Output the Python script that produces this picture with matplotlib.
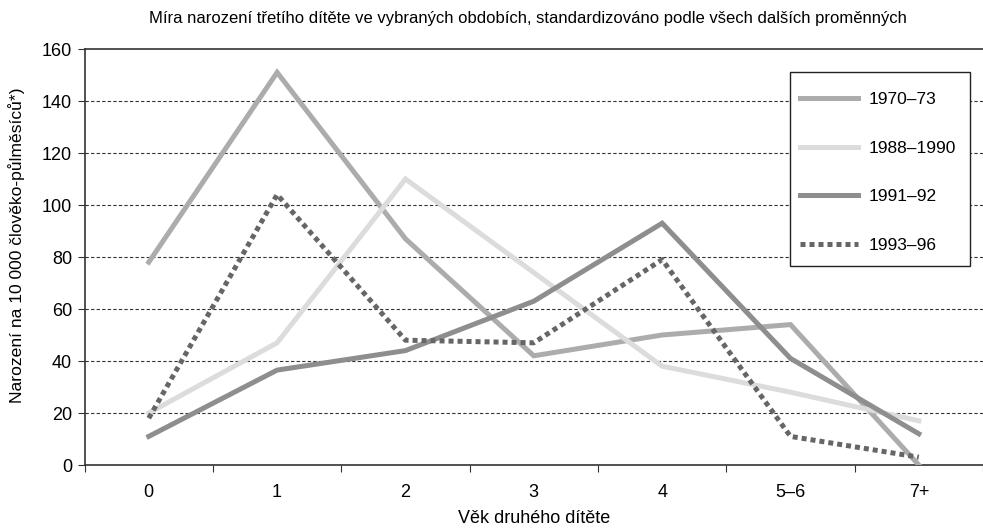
import matplotlib
matplotlib.use("Agg")
import matplotlib.pyplot as plt
from matplotlib.patches import Rectangle
import numpy as np

#%% --- Data ---

categories = ["0", "1", "2", "3", "4", "5–6", "7+"]
rate_1970_73 = [78, 151, 87, 42, 50, 54, 0]
rate_1988_1990 = [20, 47, 110, 74, 38, 28, 17]
rate_1991_92 = [11, 36.5, 44, 63, 93, 41, 12]
rate_1993_96 = [18, 104, 48, 47, 79, 11, 3]
series_labels = ["1970–73", "1988–1990", "1991–92", "1993–96"]

#%% --- Style ---

plt.rcParams["font.family"] = ["Liberation Sans Narrow", "Liberation Sans", "DejaVu Sans"]

W, H = 983, 528
fig = plt.figure(figsize=(W / 100, H / 100), dpi=100)
ax = fig.add_axes([84.6 / W, 1 - 465 / H, 1 - 84.6 / W, (465 - 49) / H])

x = np.arange(len(categories))
lw = 3.6
ax.plot(x, rate_1970_73, color="#acacac", lw=lw, label=series_labels[0],
        solid_joinstyle="miter", zorder=3)
ax.plot(x, rate_1988_1990, color="#dcdcdc", lw=lw, label=series_labels[1],
        solid_joinstyle="miter", zorder=3)
ax.plot(x, rate_1991_92, color="#8e8e8e", lw=lw, label=series_labels[2],
        solid_joinstyle="miter", zorder=3)
ax.plot(x, rate_1993_96, color="#666666", lw=lw, label=series_labels[3],
        dashes=(1.0, 0.8), dash_capstyle="butt", zorder=4)

# --- axes ---
ax.set_ylim(0, 160)
ax.set_xlim(-0.5, -0.5 + (W - 84.6) / 129.4)
ax.set_yticks(range(0, 161, 20))
ax.set_xticks(x)
ax.set_xticklabels(categories)
ax.set_xticks(np.arange(-0.5, 6.6, 1.0), minor=True)
ax.tick_params(axis="x", which="major", length=0, pad=14, labelsize=13)
ax.tick_params(axis="x", which="minor", length=5, width=0.8, color="#333333")
ax.tick_params(axis="y", length=5, width=0.8, color="#333333", labelsize=13, pad=4)

for yv in range(20, 160, 20):
    ax.axhline(yv, color="#333333", lw=0.8, ls=(0, (3, 2)), zorder=1)

for side in ["left", "bottom", "top"]:
    ax.spines[side].set_color("#333333")
    ax.spines[side].set_linewidth(1.2)
ax.spines["right"].set_visible(False)

ax.set_xlabel("Věk druhého dítěte", fontsize=13, labelpad=6)
ax.set_ylabel("Narození na 10 000 člověko-půlměsíců*)", fontsize=12.6, labelpad=6)
ax.yaxis.set_label_coords(-0.066, (465 - 245) / 416)
fig.text(0.537, 0.965, "Míra narození třetího dítěte ve vybraných obdobích, standardizováno podle všech dalších proměnných",
         ha="center", va="center", fontsize=12)

# --- legend box drawn by hand, legend content without frame ---
box = Rectangle((790 / W, 1 - 266 / H), 180 / W, 194 / H, transform=fig.transFigure,
                facecolor="white", edgecolor="#222222", lw=1.0, zorder=4.5,
                clip_on=False)
ax.add_patch(box)

leg = ax.legend(loc="upper left", bbox_to_anchor=(800 / W, 1 - 92 / H),
                bbox_transform=fig.transFigure, fontsize=12.5, frameon=False,
                handlelength=3.35, handletextpad=0.6, labelspacing=1.92,
                borderpad=0, borderaxespad=0)
leg.set_zorder(5)

fig.savefig("out.png", dpi=100)
